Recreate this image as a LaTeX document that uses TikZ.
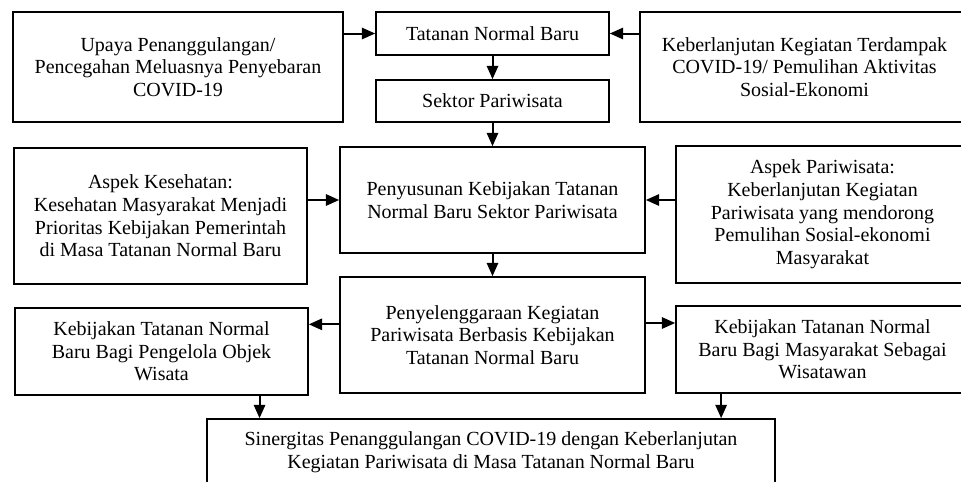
\documentclass[tikz,border=0pt]{standalone}
\usepackage{fontspec}
\setmainfont{Liberation Serif}
\usetikzlibrary{arrows.meta}

\tikzset{
	kotak/.style={draw, line width=1.2pt, align=center, inner sep=0pt, font=\fontsize{15}{17}\selectfont},
	panah/.style={->, line width=1.5pt}
}

\begin{document}
\begin{tikzpicture}[x=0.75pt, y=-0.75pt, >={Triangle[length=10pt, width=8.5pt]}]
			\useasboundingbox (0,0) rectangle (961,482);
			
			\node[kotak, minimum width=247.5pt, minimum height=82.5pt] (upaya) at (178,67) {Upaya Penanggulangan/\\Pencegahan Meluasnya Penyebaran\\COVID-19};
			\node[kotak, minimum width=174.75pt, minimum height=32.25pt] (tatanan) at (492.5,33.5) {Tatanan Normal Baru};
			\node[kotak, minimum width=246.75pt, minimum height=82.5pt] (lanjut) at (804.5,67) {Keberlanjutan Kegiatan Terdampak\\COVID-19/ Pemulihan Aktivitas\\Sosial-Ekonomi};
			\node[kotak, minimum width=174.75pt, minimum height=31.5pt] (sektor) at (492.5,101) {Sektor Pariwisata};
			
			\node[kotak, minimum width=219.75pt, minimum height=102pt] (sehat) at (160.5,216) {Aspek Kesehatan:\\Kesehatan Masyarakat Menjadi\\Prioritas Kebijakan Pemerintah\\di Masa Tatanan Normal Baru};
			\node[kotak, minimum width=228.75pt, minimum height=79.5pt] (susun) at (492.5,200) {Penyusunan Kebijakan Tatanan\\Normal Baru Sektor Pariwisata};
			\node[kotak, minimum width=219.75pt, minimum height=102.75pt] (wisata) at (822.5,214.5) {Aspek Pariwisata:\\Keberlanjutan Kegiatan\\Pariwisata yang mendorong\\Pemulihan Sosial-ekonomi\\Masyarakat};
			
			\node[kotak, minimum width=228.75pt, minimum height=87pt] (selenggara) at (492.5,335) {Penyelenggaraan Kegiatan\\Pariwisata Berbasis Kebijakan\\Tatanan Normal Baru};
			\node[kotak, minimum width=219.75pt, minimum height=65.25pt] (kelola) at (161.5,351.5) {Kebijakan Tatanan Normal\\Baru Bagi Pengelola Objek\\Wisata};
			\node[kotak, minimum width=219.75pt, minimum height=65.25pt] (wisatawan) at (822.5,349.5) {Kebijakan Tatanan Normal\\Baru Bagi Masyarakat Sebagai\\Wisatawan};
			
			\node[kotak, minimum width=426pt, minimum height=49.5pt] (sinergi) at (491,452) {Sinergitas Penanggulangan COVID-19 dengan Keberlanjutan\\Kegiatan Pariwisata di Masa Tatanan Normal Baru};
			
			\coordinate (kiri) at ([yshift=8pt]selenggara.west);
			\coordinate (kanan) at ([yshift=9pt]selenggara.east);
			\coordinate (masuk1) at ([xshift=40pt]sinergi.north west);
			\coordinate (masuk2) at ([xshift=-41pt]sinergi.north east);
			
			\draw[panah] (upaya.east |- tatanan.west) -- (tatanan.west);
			\draw[panah] (lanjut.west |- tatanan.east) -- (tatanan.east);
			\draw[panah] (tatanan) -- (sektor);
			\draw[panah] (sektor) -- (susun);
			
			\draw[panah] (sehat.east |- susun.west) -- (susun.west);
			\draw[panah] (wisata.west |- susun.east) -- (susun.east);
			\draw[panah] (susun) -- (selenggara);
			
			\draw[panah] (kiri) -- (kiri -| kelola.east);
			\draw[panah] (kanan) -- (kanan -| wisatawan.west);
			
			\draw[panah] (masuk1 |- kelola.south) -- (masuk1);
			\draw[panah] (masuk2 |- wisatawan.south) -- (masuk2);
		\end{tikzpicture}
\end{document}
